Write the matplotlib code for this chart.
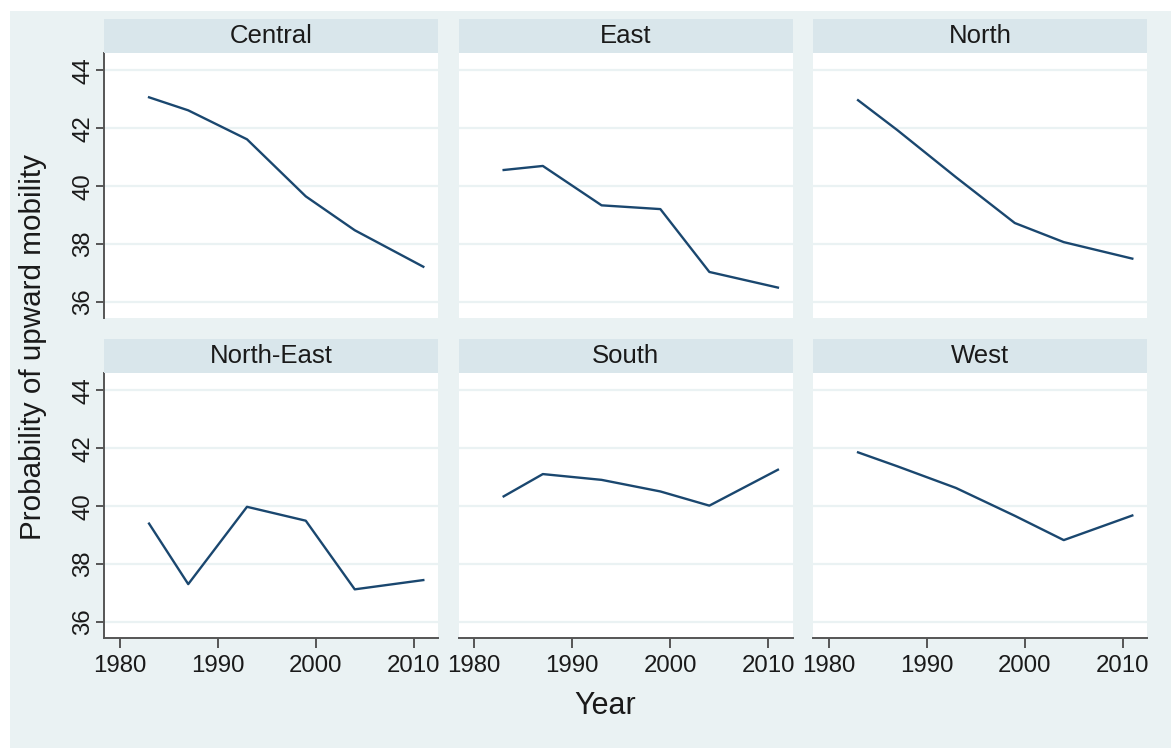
import matplotlib.pyplot as plt
from matplotlib.patches import Rectangle

plt.rcParams['font.family'] = ['Liberation Sans', 'DejaVu Sans']

regions = ["Central", "East", "North", "North-East", "South", "West"]
years = [1983, 1987, 1993, 1999, 2004, 2011]
central = [43.07, 42.62, 41.62, 39.65, 38.48, 37.22]
east = [40.56, 40.70, 39.34, 39.21, 37.04, 36.50]
north = [42.97, 41.94, 40.31, 38.73, 38.07, 37.50]
north_east = [39.40, 37.31, 39.98, 39.50, 37.13, 37.45]
south = [40.34, 41.11, 40.91, 40.51, 40.02, 41.26]
west = [41.86, 41.38, 40.63, 39.67, 38.83, 39.68]
series = [central, east, north, north_east, south, west]
y_ticks = [36, 38, 40, 42, 44]
x_ticks = [1980, 1990, 2000, 2010]

W, H = 1171, 748
bg = "#eaf2f3"
strip_col = "#d9e6eb"
line_col = "#1a476f"
axis_col = "#555555"
txt_col = "#1a1a1a"

fig = plt.figure(figsize=(W / 100, H / 100), dpi=100, facecolor="white")
fig.patches.append(Rectangle((10 / W, 0), 1 - 10 / W, 1 - 11 / H,
                             transform=fig.transFigure, facecolor=bg,
                             edgecolor="none", zorder=-10))

col_x = [104, 458.6, 813]
row_y = [53, 373]
pw, ph, sh = 334, 265, 34

for i, (name, vals) in enumerate(zip(regions, series)):
    r, c = divmod(i, 3)
    x0, y0 = col_x[c], row_y[r]
    ax = fig.add_axes([x0 / W, 1 - (y0 + ph) / H, pw / W, ph / H])
    ax.set_facecolor("white")
    ax.plot(years, vals, color=line_col, lw=1.7, zorder=3)
    ax.set_xlim(1978.4, 2012.5)
    ax.set_ylim(35.45, 44.6)
    ax.set_yticks(y_ticks)
    ax.set_xticks(x_ticks)
    ax.grid(axis="y", color=bg, lw=1.6, zorder=1)
    for s in ["top", "right"]:
        ax.spines[s].set_visible(False)
    ax.spines["left"].set_visible(c == 0)
    ax.spines["bottom"].set_visible(r == 1)
    for s in ["left", "bottom"]:
        ax.spines[s].set_color(axis_col)
        ax.spines[s].set_linewidth(1.4)
    ax.tick_params(axis="y", left=(c == 0), labelleft=(c == 0), length=6,
                   width=1.4, color=axis_col, labelsize=17.3, pad=1,
                   labelcolor=txt_col)
    ax.tick_params(axis="x", bottom=(r == 1), labelbottom=(r == 1), length=7,
                   width=1.4, color=axis_col, labelsize=17.3, pad=5,
                   labelcolor=txt_col)
    for lab in ax.get_yticklabels():
        lab.set_rotation(90)
        lab.set_va("center")

    sax = fig.add_axes([x0 / W, 1 - y0 / H, pw / W, sh / H])
    sax.set_facecolor(strip_col)
    sax.set_xticks([])
    sax.set_yticks([])
    for s in sax.spines.values():
        s.set_visible(False)
    sax.text(0.5, 0.5, name, ha="center", va="center", fontsize=18.5,
             color=txt_col, transform=sax.transAxes)

fig.text(33 / W, 1 - 347 / H, "Probability of upward mobility", rotation=90,
         ha="center", va="center", fontsize=21.3, color=txt_col)
fig.text(605 / W, 1 - 706 / H, "Year", ha="center", va="center",
         fontsize=22, color=txt_col)

fig.savefig("out.png", dpi=100, facecolor=fig.get_facecolor())
